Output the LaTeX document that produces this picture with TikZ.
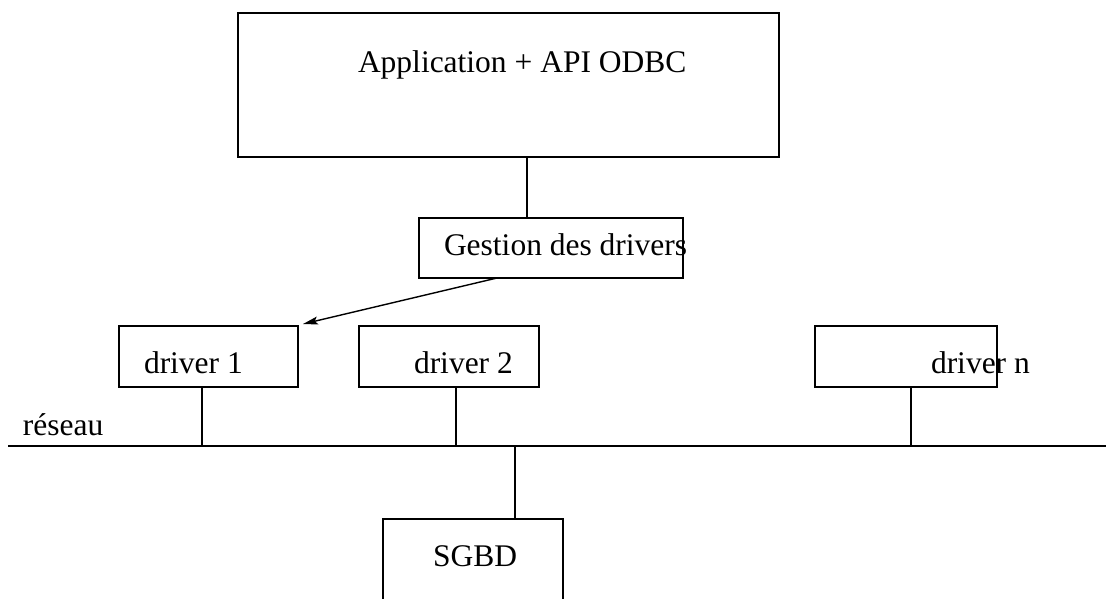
\documentclass[tikz,border=0pt]{standalone}
\usepackage{fontspec}
\setmainfont{Liberation Serif}
\usetikzlibrary{arrows.meta}
\begin{document}
\begin{tikzpicture}[x=1pt,y=-1pt,
  every node/.style={inner sep=0pt,outer sep=0pt},
  boxnode/.style={draw,line width=1.4pt,rectangle},
  lbl/.style={anchor=base west,font=\fontsize{31.5}{36}\selectfont},
  wire/.style={line width=1.4pt},
  line cap=rect]
\useasboundingbox (0,0) rectangle (1106,598);
% boxes
\node[boxnode,minimum width=541pt,minimum height=144pt] (app) at (508.5,85) {};
\node[boxnode,minimum width=264pt,minimum height=60pt] (gest) at (551,248) {};
\node[boxnode,minimum width=179pt,minimum height=61pt] (d1) at (208.5,356.5) {};
\node[boxnode,minimum width=180pt,minimum height=61pt] (d2) at (449,356.5) {};
\node[boxnode,minimum width=182pt,minimum height=61pt] (dn) at (906,356.5) {};
\node[boxnode,minimum width=180pt,minimum height=120pt] (sgbd) at (473,579) {};
% texts
\node[lbl] (tapp) at (358,72) {Application + API ODBC};
\node[lbl] (tgest) at (444,255) {Gestion des drivers};
\node[lbl] (td1) at (144,373) {driver 1};
\node[lbl] (td2) at (414,373) {driver 2};
\node[lbl] (tdn) at (931,373) {driver n};
\node[lbl] (tsgbd) at (433,566) {SGBD};
\node[lbl] (tres) at (23,435) {réseau};
% network
\coordinate (netL) at (9,446);
\coordinate (netR) at (1106,446);
\draw[wire] (netL) -- (netR);
\coordinate (n1) at (202,446);
\coordinate (n2) at (456,446);
\coordinate (nn) at (911,446);
\coordinate (ns) at (515,446);
% connectors
\draw[wire] (app.south -| 527,0) -- (gest.north -| 527,0);
\draw[wire] (d1.south -| n1) -- (n1);
\draw[wire] (d2.south -| n2) -- (n2);
\draw[wire] (dn.south -| nn) -- (nn);
\draw[wire] (ns) -- (sgbd.north -| ns);
\coordinate (as) at (497,278);
\coordinate (ae) at (303,324);
\draw[line width=1.4pt,-{Stealth[length=15pt,width=8pt,inset=3pt]}] (as) -- (ae);
\end{tikzpicture}
\end{document}
